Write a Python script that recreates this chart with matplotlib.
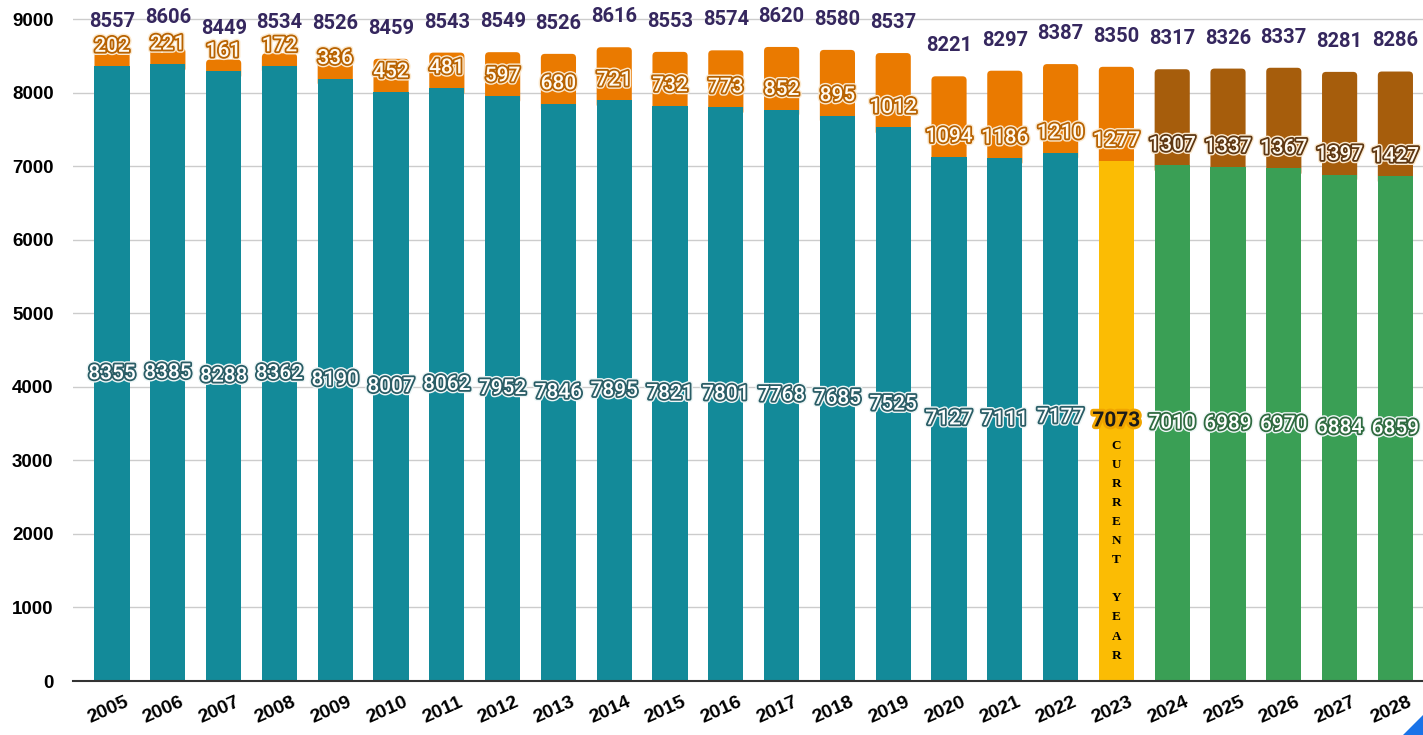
import matplotlib
matplotlib.use("Agg")
import matplotlib.pyplot as plt
import matplotlib.patheffects as pe
from matplotlib.patches import Polygon, FancyBboxPatch
from matplotlib.transforms import ScaledTranslation
import numpy as np

years = list(range(2005, 2029))
base = [8355, 8385, 8288, 8362, 8190, 8007, 8062, 7952, 7846, 7895, 7821, 7801,
        7768, 7685, 7525, 7127, 7111, 7177, 7073, 7010, 6989, 6970, 6884, 6859]
extra = [202, 221, 161, 172, 336, 452, 481, 597, 680, 721, 732, 773,
         852, 895, 1012, 1094, 1186, 1210, 1277, 1307, 1337, 1367, 1397, 1427]
totals = [8557, 8606, 8449, 8534, 8526, 8459, 8543, 8549, 8526, 8616, 8553, 8574,
          8620, 8580, 8537, 8221, 8297, 8387, 8350, 8317, 8326, 8337, 8281, 8286]
current_year = 2023

teal = "#138a99"
orange = "#ea7a00"
brown = "#a65d0c"
green = "#3a9f55"
yellow = "#fbbc04"
purple = "#35275e"

W, H = 1423, 735
fig = plt.figure(figsize=(W / 100, H / 100), dpi=100)
ax = fig.add_axes([73 / W, 1 - 681 / H, 1 - 73 / W, 681 / H])

x = np.arange(len(years))
bw = 0.63
base_cols = [teal if y < current_year else (yellow if y == current_year else green) for y in years]
extra_cols = [brown if y > current_year else orange for y in years]

xlim = (-0.7, (W - 112) / 55.8)
ylim = (0, 9000 * 681 / 662)
ax.set_xlim(*xlim)
ax.set_ylim(*ylim)

# pixel scale, used to get round top corners of the same size in px
px_x = (xlim[1] - xlim[0]) / (W - 73)
px_y = (ylim[1] - ylim[0]) / 681
r_px = 4

# upper segment with rounded corners; its bottom corners hide under the lower segment
for i in range(len(years)):
    top = base[i] + extra[i]
    y0 = base[i] - 2 * r_px * px_y
    p = FancyBboxPatch((x[i] - bw / 2, y0), bw, top - y0,
                       boxstyle=f"round,pad=0,rounding_size={r_px * px_x}",
                       mutation_aspect=px_y / px_x, facecolor=extra_cols[i],
                       edgecolor="none", zorder=2)
    ax.add_patch(p)
ax.bar(x, base, width=bw, color=base_cols, zorder=3)

ax.set_yticks(range(0, 9001, 1000))
ax.grid(axis="y", color="#cccccc", linewidth=1, zorder=0)
for s in ["top", "right", "left"]:
    ax.spines[s].set_visible(False)
ax.spines["bottom"].set_color("#333333")
ax.spines["bottom"].set_linewidth(1.5)
ax.spines["bottom"].set_zorder(4)
ax.tick_params(length=0)
ax.tick_params(axis="y", pad=14)

for lab in ax.get_yticklabels():
    lab.set_fontfamily("Liberation Sans")
    lab.set_fontweight("bold")
    lab.set_fontsize(13.5)

ax.set_xticks(x)
ax.set_xticklabels([str(y) for y in years], rotation=24, ha="right",
                   rotation_mode="anchor", fontfamily="Liberation Sans",
                   fontweight="bold", fontsize=14)
off = ScaledTranslation(12 / 100, -8 / 100, fig.dpi_scale_trans)
for lab in ax.get_xticklabels():
    lab.set_transform(lab.get_transform() + off)


def outline(fg, outer="#f2f2f2"):
    return [pe.Stroke(linewidth=4.6, foreground=outer),
            pe.Stroke(linewidth=2.6, foreground=fg), pe.Normal()]


for i, y in enumerate(years):
    # lower value label in the middle of the bar
    if y == current_year:
        ax.text(i, base[i] / 2, str(base[i]), ha="center", va="center",
                fontfamily="Roboto", fontweight="bold", fontsize=15, color="#1a1a1a",
                zorder=5, path_effects=[pe.Stroke(linewidth=4, foreground="#f0a500"), pe.Normal()])
        ax.annotate("\n".join("CURRENT YEAR"), (i, base[i] / 2), xytext=(0, -14),
                    textcoords="offset points", ha="center", va="top",
                    fontfamily="Liberation Serif", fontweight="bold", fontsize=9.5,
                    linespacing=1.78, color="black", zorder=5)
    else:
        c = "#2a5d66" if y < current_year else "#2f6b40"
        ax.text(i, base[i] / 2, str(base[i]), ha="center", va="center",
                fontfamily="Roboto", fontweight="medium", fontsize=15, color="white",
                zorder=5, path_effects=outline(c, "#eef6f6"))
    # upper value label just above the bottom of the upper segment
    c2 = "#5e3712" if y > current_year else "#b86200"
    ax.annotate(str(extra[i]), (i, base[i]), xytext=(0, 14.5), textcoords="offset points",
                ha="center", va="center", fontfamily="Roboto", fontweight="medium",
                fontsize=15, color="#fffaf0", zorder=5,
                path_effects=outline(c2, "#fbe9cf"))
    # total above the bar
    ax.annotate(str(totals[i]), (i, totals[i]), xytext=(0, 22), textcoords="offset points",
                ha="center", va="center", fontfamily="Roboto", fontweight="bold",
                fontsize=14.5, color=purple, zorder=5)

# decorative corner
tri = Polygon([(1403 / W, 0), (1, 0), (1, 20 / H)], closed=True,
              transform=fig.transFigure, color="#1a73e8", zorder=10)
fig.patches.append(tri)

fig.savefig("out.png", dpi=100)
